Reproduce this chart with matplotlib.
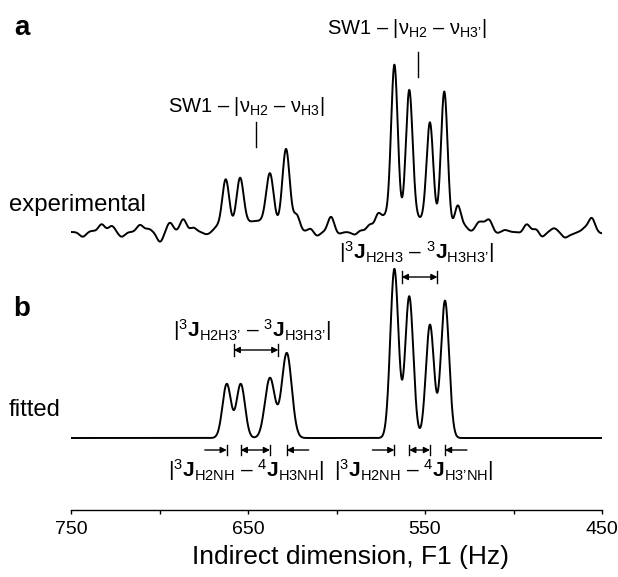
import numpy as np
import matplotlib.pyplot as plt

plt.rcParams['font.family'] = ['Liberation Sans', 'DejaVu Sans']
plt.rcParams['mathtext.fontset'] = 'custom'
plt.rcParams['mathtext.rm'] = 'Liberation Sans'
plt.rcParams['mathtext.it'] = 'Liberation Sans:italic'
plt.rcParams['mathtext.bf'] = 'Liberation Sans:bold'

# fitted spectrum: peak centres (Hz), heights, widths (Hz)
fit_centers = [662.0, 654.1, 637.6, 628.1, 567.3, 558.9, 547.2, 538.7]
fit_heights = [54, 54, 60, 85, 169, 141.6, 113.3, 137.3]
fit_widths = [2.4, 2.4, 2.8, 2.8, 2.3, 2.3, 2.3, 2.3]

# experimental spectrum: the same multiplets, narrower, on broad humps
exp_centers = [662.6, 654.5, 637.6, 628.5, 567.3, 558.9, 547.2, 539.1]
exp_heights = [51, 48, 51, 81, 162, 129, 102, 139]
exp_widths = [2.0, 2.0, 2.1, 2.1, 1.9, 1.9, 1.9, 1.9]
hump_centers = [645, 556]
hump_heights = [11, 14]
hump_widths = [9, 8]

# baseline ripple of the experimental trace
ripple_hz = [743.4, 738.3, 732.7, 727.0, 721.4, 711.0, 706.3, 699.7, 694.1,
             686.6, 680.9, 673.3, 667.7, 622.5, 614.6, 611.2, 603.1, 599.0,
             589.5, 586.7, 581.1, 576.4, 572.5, 531.5, 527.5, 519.9, 517.0,
             513.7, 509.5, 504.8, 495.4, 492.6, 486.9, 484.1, 477.1, 470.9,
             467.1, 459.6, 455.8, 450.2]
ripple_amp = [-4.7, 1, 7.7, 6, -4.7, 7, 3, -9.7, 9.3,
              12.7, 4.3, -2.3, 4, 16, 3.7, -4, 15.3, -2,
              -3, 2, 7, 17, 12, 26, 5, 8, 6,
              11.3, -1.3, 2, -1.3, 8, 3.7, -5.3, 3.7, -5.3,
              -2, 3.7, 13.7, -1.3]
ripple_width = 1.8

exp_offset = 278
fit_offset = 72

x = np.linspace(750, 450, 3001)


def lines(centers, heights, widths):
    y = np.zeros_like(x)
    for c, h, w in zip(centers, heights, widths):
        y += h * np.exp(-0.5 * ((x - c) / w) ** 2)
    return y


experimental = (lines(exp_centers, exp_heights, exp_widths)
                + lines(hump_centers, hump_heights, hump_widths)
                + lines(ripple_hz, ripple_amp, [ripple_width] * len(ripple_hz)))
fitted = lines(fit_centers, fit_heights, fit_widths)

fig = plt.figure(figsize=(6.18, 5.77), dpi=100)
ax = fig.add_axes([71 / 618, 67 / 577, 531 / 618, 510 / 577])

ax.plot(x, experimental + exp_offset, color='black', lw=1.4)
ax.plot(x, fitted + fit_offset, color='black', lw=1.4)

ax.set_xlim(750, 450)
ax.set_ylim(0, 510)
ax.set_xticks([750, 700, 650, 600, 550, 500, 450])
ax.set_xticklabels(['750', '', '650', '', '550', '', '450'], fontsize=14)
ax.tick_params(axis='x', direction='out', length=3, width=1, pad=5)
ax.set_yticks([])
for s in ['left', 'right', 'top']:
    ax.spines[s].set_visible(False)
ax.spines['bottom'].set_linewidth(1)
fig.text(350 / 618, 1 - 557 / 577, 'Indirect dimension, F1 (Hz)', fontsize=19,
         ha='center', va='center')

# panel letters and trace names
fig.text(22 / 618, 1 - 28 / 577, 'a', fontsize=20, weight='bold', ha='center', va='center')
fig.text(22 / 618, 1 - 309 / 577, 'b', fontsize=20, weight='bold', ha='center', va='center')
fig.text(9 / 618, 1 - 205 / 577, 'experimental', fontsize=17.2, ha='left', va='center')
fig.text(9 / 618, 1 - 410 / 577, 'fitted', fontsize=17.2, ha='left', va='center')

fs = 15
ax.text(650.8, 404, r'SW1 – $|\mathrm{\nu}_{\mathrm{H2}}\ \mathrm{–}\ \mathrm{\nu}_{\mathrm{H3}}|$',
        fontsize=14.5, ha='center', va='center')
ax.text(560.2, 482, r'SW1 – $|\mathrm{\nu}_{\mathrm{H2}}\ \mathrm{–}\ \mathrm{\nu}_{\mathrm{H3’}}|$',
        fontsize=14.5, ha='center', va='center')
ax.plot([645.7, 645.7], [363, 388], color='black', lw=1)
ax.plot([554.1, 554.1], [433, 458], color='black', lw=1)

ax.text(555.1, 258, r'$|^3\mathbf{J}_{\mathrm{H2H3}}\ \mathrm{–}\ {}^3\mathbf{J}_{\mathrm{H3H3’}}|$',
        fontsize=fs, ha='center', va='center')
ax.text(647.5, 180, r'$|^3\mathbf{J}_{\mathrm{H2H3’}}\ \mathrm{–}\ {}^3\mathbf{J}_{\mathrm{H3H3’}}|$',
        fontsize=fs, ha='center', va='center')
ax.text(651.1, 40, r'$|^3\mathbf{J}_{\mathrm{H2NH}}\ \mathrm{–}\ {}^4\mathbf{J}_{\mathrm{H3NH}}|$',
        fontsize=fs, ha='center', va='center')
ax.text(556.2, 40, r'$|^3\mathbf{J}_{\mathrm{H2NH}}\ \mathrm{–}\ {}^4\mathbf{J}_{\mathrm{H3’NH}}|$',
        fontsize=fs, ha='center', va='center')

aprops = dict(arrowstyle='-|>', color='black', lw=1, mutation_scale=9, shrinkA=0, shrinkB=0)
dprops = dict(arrowstyle='<|-|>', color='black', lw=1, mutation_scale=9, shrinkA=0, shrinkB=0)


def bar(xp, yc, half):
    ax.plot([xp, xp], [yc - half, yc + half], color='black', lw=1)


# doublet-centre separations (top arrows)
left_pair = [(fit_centers[0] + fit_centers[1]) / 2, (fit_centers[2] + fit_centers[3]) / 2]
right_pair = [(fit_centers[4] + fit_centers[5]) / 2, (fit_centers[6] + fit_centers[7]) / 2]
for (a, b), yc in [(left_pair, 160), (right_pair, 233)]:
    ax.annotate('', xy=(b, yc), xytext=(a, yc), arrowprops=dprops)
    bar(a, yc, 6)
    bar(b, yc, 6)

# line positions (bottom arrows)
yb = 60
for grp in [fit_centers[:4], fit_centers[4:]]:
    p1, p2, p3, p4 = grp
    ax.annotate('', xy=(p1, yb), xytext=(p1 + 12.4, yb), arrowprops=aprops)
    ax.annotate('', xy=(p3, yb), xytext=(p2, yb), arrowprops=dprops)
    ax.annotate('', xy=(p4, yb), xytext=(p4 - 12.4, yb), arrowprops=aprops)
    for p in grp:
        bar(p, yb, 5)

fig.savefig('out.png', dpi=100)
